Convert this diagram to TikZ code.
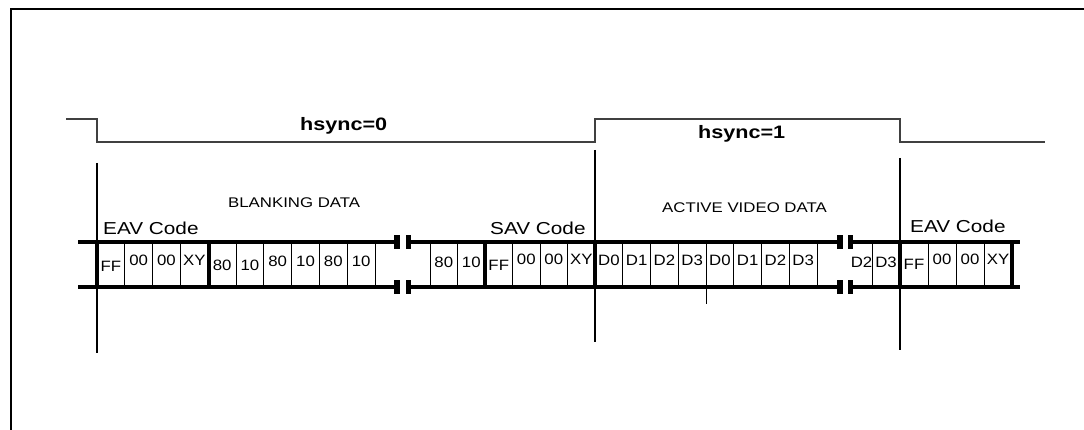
\documentclass[tikz,border=0pt]{standalone}
\usepackage{fontspec}
\newfontfamily\figfont[FakeStretch=1.2]{Liberation Sans}
\newfontfamily\cellfont[FakeStretch=1.12]{Liberation Sans}

\tikzset{
    bus/.style={line width=3.5pt},
    divider/.style={line width=4pt},
    cellline/.style={line width=0.8pt},
    marker/.style={line width=1.2pt},
    hexlabel/.style={font=\cellfont\fontsize{15}{16}\selectfont, inner sep=0pt},
    codelabel/.style={font=\figfont\fontsize{17.3}{18}\selectfont, inner sep=0pt, anchor=base west},
    datalabel/.style={font=\figfont\fontsize{14}{15}\selectfont, inner sep=0pt, anchor=base west},
    synclabel/.style={font=\figfont\bfseries\fontsize{18}{19}\selectfont, inner sep=0pt, anchor=base west}
}

\begin{document}
\begin{tikzpicture}[x=1pt, y=-1pt]
            \useasboundingbox (0,0) rectangle (1084,430);

            % frame
            \draw[line width=2.5pt] (11,430) -- (11,9) -- (1084,9);

            % hsync wave
            \draw[line width=1.2pt, black!75] (66,119) -- (97,119) -- (97,142) -- (595,142)
                -- (595,119) -- (900,119) -- (900,142) -- (1045,142);
            \node[synclabel] (hsynclow) at (300,131) {hsync=0};
            \node[synclabel] (hsynchigh) at (698,139) {hsync=1};

            % markers
            \draw[marker] (97,163) -- (97,353);
            \draw[marker] (595,150) -- (595,342);
            \draw[marker] (900,158) -- (900,350);
            \draw[cellline] (706,287) -- (706,304);

            % bus lines and breaks
            \foreach \y in {242, 287}{
                \draw[bus] (78,\y) -- (397,\y);
                \draw[bus] (408,\y) -- (840,\y);
                \draw[bus] (850,\y) -- (1020,\y);
                \fill (394,\y-7) rectangle (400,\y+7);
                \fill (406,\y-7) rectangle (410.5,\y+7);
                \fill (837,\y-7) rectangle (843,\y+7);
                \fill (848,\y-7) rectangle (853,\y+7);
            }

            \foreach \x in {124.8, 152.6, 180.4, 236, 263.8, 291.6, 319.4, 347.2, 375,
                            430, 457.5, 512.5, 540, 567.5,
                            622.75, 650.5, 678.25, 706, 733.75, 761.5, 789.25, 817,
                            872, 928, 956, 984}{
                \draw[cellline] (\x,242) -- (\x,287);
            }

            \foreach \x in {97, 209, 485, 595, 900, 1012}{
                \draw[divider] (\x,242) -- (\x,287);
            }

            % cell labels
            \foreach \lbl/\yy [count=\i] in {FF/266, 00/260, 00/260, XY/260, 80/265,
                                             10/265, 80/261, 10/261, 80/261, 10/261}{
                \node[hexlabel] (blank\i) at ({97+27.8*(\i-0.5)},\yy) {\lbl};
            }
            \foreach \lbl/\yy [count=\i] in {80/262, 10/262, FF/265, 00/259, 00/259, XY/259}{
                \node[hexlabel] (sav\i) at ({430+27.5*(\i-0.5)},\yy) {\lbl};
            }
            \foreach \lbl [count=\i] in {D0, D1, D2, D3, D0, D1, D2, D3}{
                \node[hexlabel] (act\i) at ({595+27.75*(\i-0.5)},260) {\lbl};
            }
            \node[hexlabel] (actlastA) at (861.5,262) {D2};
            \node[hexlabel] (actlastB) at (886,262) {D3};
            \foreach \lbl/\yy [count=\i] in {FF/264, 00/259, 00/259, XY/259}{
                \node[hexlabel] (eav\i) at ({900+28*(\i-0.5)},\yy) {\lbl};
            }

            % titles
            \node[codelabel] (eavleft) at (103,235) {EAV Code};
            \node[datalabel] (blanking) at (228,208) {BLANKING DATA};
            \node[codelabel] (savcode) at (490,235) {SAV Code};
            \node[datalabel] (active) at (662,213) {ACTIVE VIDEO DATA};
            \node[codelabel] (eavright) at (910,233) {EAV Code};

        \end{tikzpicture}
\end{document}
